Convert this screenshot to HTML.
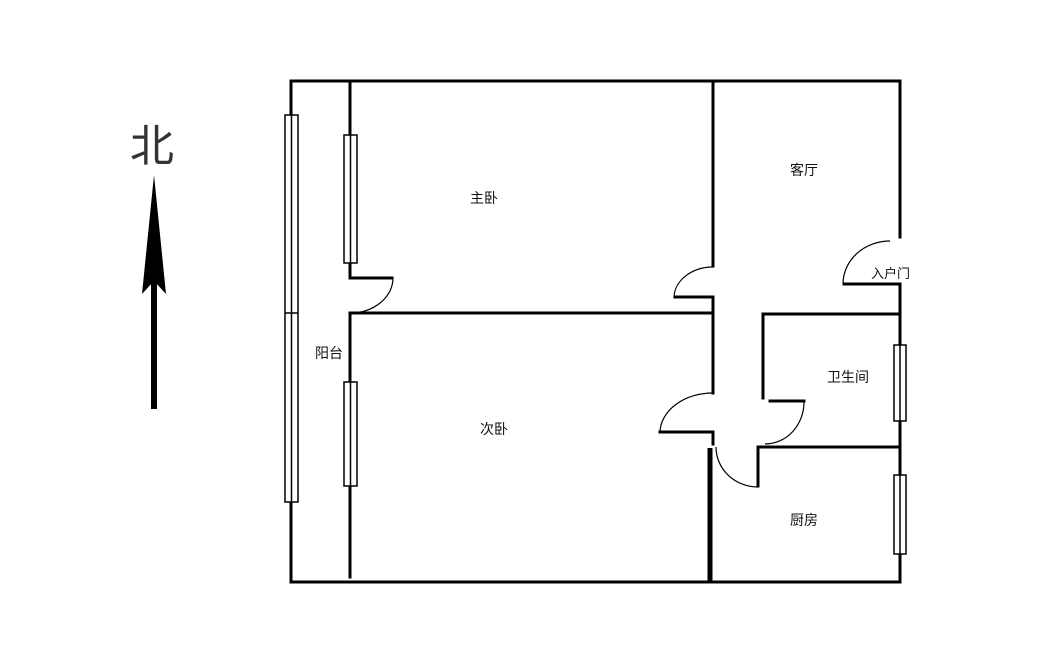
<!DOCTYPE html>
<html><head><meta charset="utf-8"><style>
html,body{margin:0;padding:0;background:#fff;}
svg{display:block;}
text{font-family:"Liberation Sans","Noto Sans CJK SC",sans-serif;font-size:14px;fill:#111;}
</style></head><body>
<svg width="1039" height="664" viewBox="0 0 1039 664" xmlns="http://www.w3.org/2000/svg">
<rect width="1039" height="664" fill="#fff"/>
<g stroke="#000" stroke-width="3" fill="none" stroke-linecap="square">
<!-- outer -->
<line x1="291" y1="81" x2="900" y2="81"/>
<line x1="291" y1="582" x2="900" y2="582"/>
<line x1="291" y1="81" x2="291" y2="582"/>
<!-- inner balcony wall -->
<line x1="350" y1="81" x2="350" y2="278"/>
<line x1="350" y1="278" x2="392" y2="278"/>
<line x1="350" y1="313" x2="350" y2="577"/>
<line x1="350" y1="313" x2="713" y2="313"/>
<!-- middle vertical -->
<line x1="713" y1="81" x2="713" y2="266"/>
<line x1="675" y1="297" x2="713" y2="297"/>
<line x1="713" y1="297" x2="713" y2="393"/>
<line x1="660" y1="432" x2="713" y2="432"/>
<line x1="713" y1="432" x2="713" y2="444"/>
<!-- right outer -->
<line x1="900" y1="81" x2="900" y2="237"/>
<line x1="844" y1="284" x2="900" y2="284"/>
<line x1="900" y1="284" x2="900" y2="582"/>
<!-- bathroom -->
<line x1="763" y1="314" x2="900" y2="314"/>
<line x1="763" y1="314" x2="763" y2="398"/>
<line x1="770" y1="401" x2="804" y2="401"/>
<line x1="758" y1="447" x2="900" y2="447"/>
<line x1="758" y1="447" x2="758" y2="486"/>
</g>
<line x1="710" y1="448" x2="710" y2="582" stroke="#000" stroke-width="5"/>
<!-- door arcs -->
<g stroke="#000" stroke-width="1.2" fill="none">
<path d="M393,278 A43,35 0 0 1 350,313"/>
<path d="M713,267 A39,31 0 0 0 674,298"/>
<path d="M713,393 A53,40 0 0 0 660,432"/>
<path d="M804,401 A39,42 0 0 1 765,444"/>
<path d="M758,487 A42,40 0 0 1 716,447"/>
<path d="M890,241 A47,43 0 0 0 843,283"/>
</g>
<!-- windows -->
<g stroke="#000" stroke-width="1.5" fill="#fff">
<rect x="285" y="115" width="13" height="387"/>
<line x1="291.5" y1="115" x2="291.5" y2="502"/>
<line x1="285" y1="313" x2="298" y2="313"/>
<rect x="344" y="135" width="13" height="128"/>
<line x1="350.5" y1="135" x2="350.5" y2="263"/>
<rect x="344" y="382" width="13" height="104"/>
<line x1="350.5" y1="382" x2="350.5" y2="486"/>
<rect x="894" y="345" width="12" height="76"/>
<line x1="900" y1="345" x2="900" y2="421"/>
<rect x="894" y="475" width="12" height="79"/>
<line x1="900" y1="475" x2="900" y2="554"/>
</g>
<!-- labels -->
<text x="470" y="203">主卧</text>
<text x="790" y="175">客厅</text>
<text x="315" y="358">阳台</text>
<text x="480" y="434">次卧</text>
<text x="827" y="382">卫生间</text>
<text x="790" y="525">厨房</text>
<text x="871" y="278" style="font-size:13px">入户门</text>
<!-- north arrow -->
<text x="130" y="161" style="font-size:44px;fill:#333">北</text>
<rect x="151" y="280" width="6" height="129" fill="#000"/>
<polygon points="154,175 166,294 154,281 142,294" fill="#000"/>
</svg>
</body></html>
